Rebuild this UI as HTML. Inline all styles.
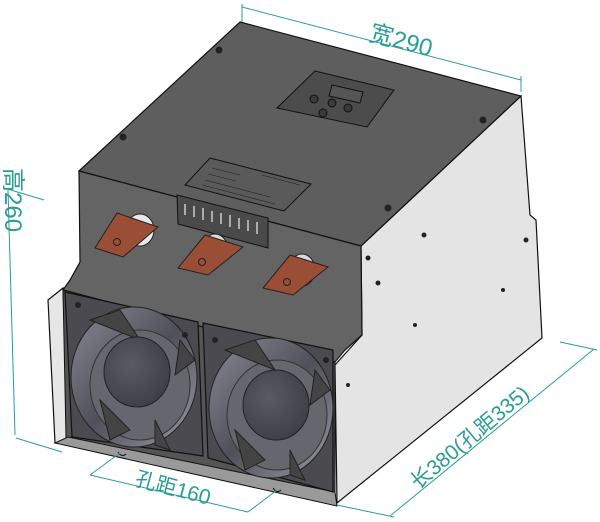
<!DOCTYPE html>
<html><head><meta charset="utf-8"><style>
html,body{margin:0;padding:0;background:#fff;overflow:hidden;}
svg{display:block;}
text{font-family:"Liberation Sans","Noto Sans CJK SC",sans-serif;fill:#2a9d95;}
</style></head><body>
<svg width="600" height="522" viewBox="0 0 600 522" xmlns="http://www.w3.org/2000/svg">
<defs>
<radialGradient id="hub" cx="0.4" cy="0.4" r="0.7"><stop offset="0" stop-color="#5a5a62"/><stop offset="1" stop-color="#3c3c44"/></radialGradient>
<linearGradient id="ring" x1="0" y1="0" x2="1" y2="1"><stop offset="0" stop-color="#8a8a96"/><stop offset="0.5" stop-color="#50505a"/><stop offset="1" stop-color="#9a9aa6"/></linearGradient>
</defs>
<!-- white side panel -->
<polygon points="361,246 521,96 530,215 536,220 542,338 337,503 335,365 362,335" fill="#e4e4e4" stroke="#111" stroke-width="1.2"/>
<!-- top face -->
<polygon points="240,22 521,96 361,246 79,171" fill="#5e5e5e" stroke="#111" stroke-width="1.2"/>
<!-- front upper face -->
<polygon points="79,171 361,246 362,335 345,350 335,362 63,290 70,280 80,262" fill="#646464" stroke="#111" stroke-width="1.2"/>
<!-- left flange -->
<polygon points="48,300 63,288 68,440 55,443" fill="#e6e6e6" stroke="#111" stroke-width="1.2"/>
<!-- fan area background -->
<polygon points="63,290 335,362 335,505 66,438" fill="#555" stroke="#111" stroke-width="1"/>
<!-- tray -->
<polygon points="55,443 68,437 335,492 337,506" fill="#9a9a9a" stroke="#111" stroke-width="1"/>
<path d="M118,452 q4,6 8,2 M273,488 q4,6 8,2" stroke="#111" fill="none"/>
<!-- fan 1 -->
<polygon points="65,292 198,322 203,456 72,437" fill="#4a4a50" stroke="#111" stroke-width="1.2"/>
<ellipse cx="134" cy="377" rx="63" ry="70" fill="url(#ring)" stroke="#222"/>
<ellipse cx="140" cy="385" rx="50" ry="55" fill="#66666e" stroke="#333"/>
<path d="M90,320 l30,-10 l20,30 z M180,340 l15,20 l-20,15 z M100,400 l30,30 l-20,10 z M155,420 l15,30 l-15,-5z" fill="#444" stroke="#222"/>
<ellipse cx="137" cy="372" rx="33" ry="35" fill="url(#hub)" stroke="#222"/>
<!-- fan 2 -->
<polygon points="203,323 333,350 333,492 208,458" fill="#4a4a50" stroke="#111" stroke-width="1.2"/>
<ellipse cx="271" cy="408" rx="62" ry="70" fill="url(#ring)" stroke="#222"/>
<ellipse cx="277" cy="415" rx="50" ry="55" fill="#66666e" stroke="#333"/>
<path d="M225,350 l30,-10 l20,30 z M315,370 l15,20 l-20,15 z M235,430 l30,30 l-20,10 z M290,450 l15,30 l-15,-5z" fill="#444" stroke="#222"/>
<ellipse cx="276" cy="405" rx="33" ry="35" fill="url(#hub)" stroke="#222"/>
<!-- screws -->
<g fill="#222"><circle cx="219" cy="50" r="3.5"/><circle cx="123" cy="137" r="3.5"/><circle cx="483" cy="120" r="3.5"/><circle cx="388" cy="208" r="3.5"/><circle cx="78" cy="305" r="3"/><circle cx="185" cy="335" r="3"/><circle cx="215" cy="340" r="3"/><circle cx="326" cy="360" r="3"/><circle cx="424" cy="235" r="2.5"/><circle cx="526" cy="240" r="2.5"/><circle cx="368" cy="258" r="2.5"/><circle cx="378" cy="283" r="2.5"/><circle cx="415" cy="325" r="2"/><circle cx="348" cy="385" r="2"/><circle cx="503" cy="290" r="2"/></g>
<!-- display box -->
<polygon points="315,71 394,90 367,127 277,108" fill="#4c4c4c" stroke="#111"/>
<polygon points="332,85 363,92 360,103 329,96" fill="#555" stroke="#111"/>
<g fill="#3a3a3a" stroke="#111"><circle cx="314" cy="99" r="4"/><circle cx="332" cy="103" r="4"/><circle cx="348" cy="108" r="4"/><circle cx="323" cy="113" r="4"/></g>
<!-- label plate -->
<polygon points="210,158 311,184 284,211 185,185" fill="#5a5a5a" stroke="#111"/>
<g stroke="#222" stroke-width="0.6"><line x1="212" y1="168" x2="240" y2="175"/><line x1="208" y1="174" x2="236" y2="181"/><line x1="205" y1="180" x2="270" y2="197"/><line x1="202" y1="185" x2="275" y2="204"/><line x1="262" y1="175" x2="300" y2="185"/></g>
<!-- terminal block -->
<polygon points="177,195 268,218 268,248 178,224" fill="#4a4a4a" stroke="#111"/>
<g stroke="#ccc" stroke-width="1.5"><line x1="185" y1="204" x2="185" y2="215"/><line x1="194" y1="206" x2="194" y2="217"/><line x1="203" y1="208" x2="203" y2="220"/><line x1="212" y1="211" x2="212" y2="222"/><line x1="221" y1="213" x2="221" y2="224"/><line x1="230" y1="215" x2="230" y2="227"/><line x1="239" y1="218" x2="239" y2="229"/><line x1="248" y1="220" x2="248" y2="231"/><line x1="257" y1="222" x2="257" y2="234"/></g>
<!-- copper bars -->
<g>
<ellipse cx="140" cy="230" rx="14" ry="16" fill="#e8e8ee" stroke="#222"/>
<polygon points="117,213 158,227 123,257 95,248" fill="#9a4e36" stroke="#222"/>
<circle cx="117" cy="242" r="3.5" fill="none" stroke="#222"/>
<ellipse cx="215" cy="250" rx="13" ry="16" fill="#d8d8e0" stroke="#222"/>
<polygon points="205,235 243,247 208,275 178,268" fill="#9a4e36" stroke="#222"/>
<circle cx="202" cy="262" r="3.5" fill="none" stroke="#222"/>
<ellipse cx="302" cy="270" rx="13" ry="16" fill="#d8d8e0" stroke="#222"/>
<polygon points="290,255 328,267 293,295 263,288" fill="#9a4e36" stroke="#222"/>
<circle cx="287" cy="282" r="3.5" fill="none" stroke="#222"/>
</g>
<!-- dimensions -->
<g stroke="#2a9d95" stroke-width="1" fill="none">
<line x1="242" y1="4" x2="242" y2="22"/><line x1="521" y1="76" x2="521" y2="92"/><line x1="242" y1="7" x2="521" y2="80"/>
<line x1="4" y1="188" x2="44" y2="200"/><line x1="16" y1="438" x2="62" y2="452"/><line x1="8" y1="190" x2="15" y2="435"/>
<line x1="120" y1="453" x2="90" y2="475"/><line x1="277" y1="490" x2="248" y2="512"/><line x1="90" y1="475" x2="248" y2="512"/>
<line x1="337" y1="505" x2="394" y2="517"/><line x1="560" y1="342" x2="597" y2="350"/><line x1="390" y1="516" x2="594" y2="349"/>
</g>
<text x="368" y="40" font-size="24" transform="rotate(15 368 40)">宽290</text>
<text x="5" y="168" font-size="24" transform="rotate(90 5 168)">高260</text>
<text x="134" y="485" font-size="21" transform="rotate(15 134 485)">孔距160</text>
<text x="418" y="490" font-size="21" transform="rotate(-40 418 490)">长380(孔距335)</text>
</svg>
</body></html>
